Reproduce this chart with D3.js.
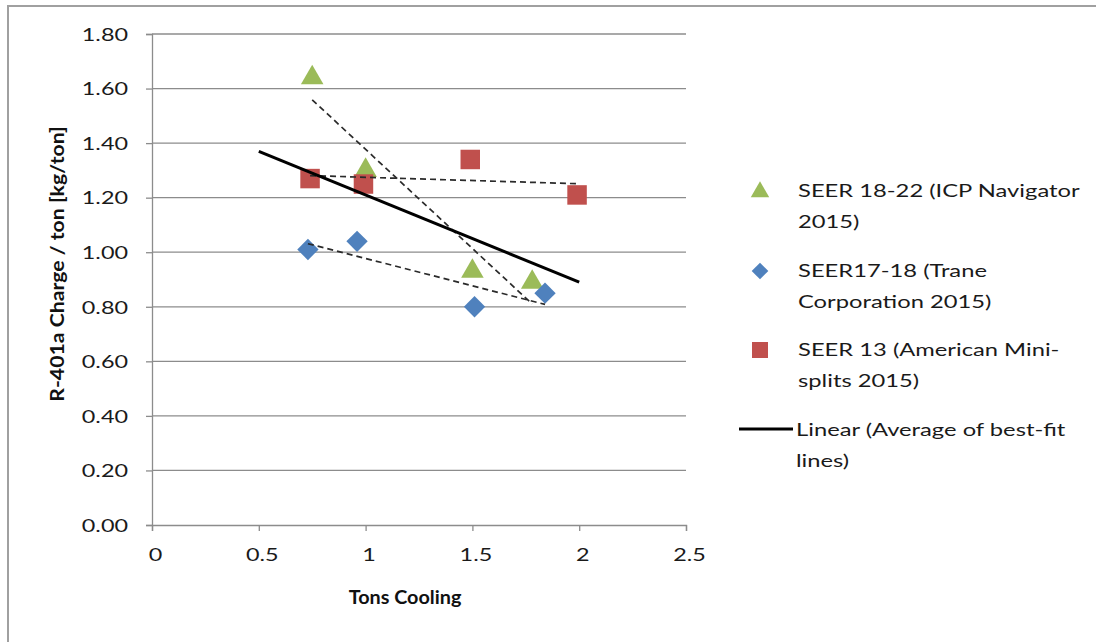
<!DOCTYPE html>
<html><head><meta charset="utf-8">
<script src="https://cdn.jsdelivr.net/npm/d3@7"></script>
<style>body{margin:0;background:#fff}svg{display:block}text{font-family:Lato,"Open Sans",sans-serif}</style>
</head><body><svg id="c" width="1096" height="642"></svg>
<script>
// ---- data ----
const xTicks = [0, 0.5, 1, 1.5, 2, 2.5];
const yTicks = [0, 0.2, 0.4, 0.6, 0.8, 1.0, 1.2, 1.4, 1.6, 1.8];
const greenX = [0.75, 1.00, 1.50, 1.78];
const greenY = [1.64, 1.30, 0.93, 0.89];
const blueX = [0.73, 0.96, 1.51, 1.84];
const blueY = [1.01, 1.04, 0.80, 0.85];
const redX = [0.74, 0.99, 1.49, 1.99];
const redY = [1.27, 1.25, 1.34, 1.21];
const avgX = [0.5, 2.0];
const avgY = [1.37, 0.89];
const legendLabels = [
  ["SEER 18-22 (ICP Navigator", "2015)"],
  ["SEER17-18 (Trane", "Corporation 2015)"],
  ["SEER 13 (American Mini-", "splits 2015)"],
  ["Linear (Average of best-fit", "lines)"]
];
const xTitle = "Tons Cooling";
const yTitle = "R-401a Charge / ton [kg/ton]";

// ---- drawing ----
const svg = d3.select("#c");
const L = 152, R = 686, T = 34, B = 525;
const x = d3.scaleLinear().domain([0, 2.5]).range([L, R]);
const y = d3.scaleLinear().domain([0, 1.8]).range([B, T]);
const gray = "#8c8c8c";
const SX = 1.3; // horizontal text stretch of the original rendering

// chart border
svg.append("path").attr("d", "M8,642V6H1096").attr("fill", "none").attr("stroke", "#a0a0a0").attr("stroke-width", 2);

// gridlines
svg.append("g").selectAll("line").data(yTicks.filter(d => d > 0)).join("line")
  .attr("x1", L).attr("x2", R).attr("y1", d => y(d)).attr("y2", d => y(d))
  .attr("stroke", gray).attr("stroke-width", 1.3);

// axes
const yAxis = d3.axisLeft(y).tickValues(yTicks).tickFormat(d3.format(".2f")).tickSize(6);
const gy = svg.append("g").attr("transform", `translate(${L},0)`).call(yAxis);
const xAxis = d3.axisBottom(x).tickValues(xTicks).tickFormat(d => d3.format("")(d)).tickSize(6);
const gx = svg.append("g").attr("transform", `translate(0,${B})`).call(xAxis);
[gx, gy].forEach(g => {
  g.select(".domain").attr("stroke", gray).attr("stroke-width", 1.3);
  g.selectAll(".tick line").attr("stroke", gray).attr("stroke-width", 1.3);
  g.selectAll(".tick text").attr("font-size", 18).attr("fill", "#1a1a1a").attr("font-family", "Lato, sans-serif");
});
gy.selectAll(".tick text").attr("x", -24 / SX).attr("dy", "0.35em").attr("transform", `scale(${SX},1)`);
gx.selectAll(".tick text").attr("x", 3 / SX).attr("y", 30).attr("dy", "0.35em").attr("transform", `scale(${SX},1)`);

// titles
svg.append("text").attr("transform", `translate(405,598) scale(1.1,1)`).attr("dy", "0.35em").attr("text-anchor", "middle")
  .attr("font-size", 18).attr("font-weight", "bold").attr("fill", "#111").text(xTitle);
svg.append("text").attr("transform", "translate(58,264) rotate(-90) scale(1.18,1)").attr("dy", "0.35em").attr("text-anchor", "middle")
  .attr("font-size", 18).attr("font-weight", "bold").attr("fill", "#111").text(yTitle);

// trendlines (least squares) dashed
function fit(xs, ys) {
  const mx = d3.mean(xs), my = d3.mean(ys);
  let num = 0, den = 0;
  xs.forEach((v, i) => { num += (v - mx) * (ys[i] - my); den += (v - mx) * (v - mx); });
  const m = num / den, b = my - m * mx;
  const x0 = d3.min(xs), x1 = d3.max(xs);
  return [[x0, m * x0 + b], [x1, m * x1 + b]];
}
const line = d3.line().x(d => x(d[0])).y(d => y(d[1]));

// markers
const sym = {
  tri: d3.symbol(d3.symbolTriangle, 220),
  dia: d3.symbol(d3.symbolDiamond2, 290),
  sq: d3.symbol(d3.symbolSquare, 380)
};
const series = [
  { xs: greenX, ys: greenY, color: "#9BBB59", s: sym.tri },
  { xs: blueX, ys: blueY, color: "#4F81BD", s: sym.dia },
  { xs: redX, ys: redY, color: "#C0504D", s: sym.sq }
];
const mk = svg.append("g");
series.forEach(sr => {
  mk.append("g").selectAll("path").data(sr.xs.map((v, i) => [v, sr.ys[i]])).join("path")
    .attr("d", sr.s).attr("fill", sr.color)
    .attr("transform", d => `translate(${x(d[0])},${y(d[1])})`);
});
const tl = svg.append("g");
series.forEach(sr => {
  tl.append("path").attr("d", line(fit(sr.xs, sr.ys))).attr("fill", "none")
    .attr("stroke", "#2a2a2a").attr("stroke-width", 1.7).attr("stroke-dasharray", "6,4");
});
// average line
svg.append("path").attr("d", line(avgX.map((v, i) => [v, avgY[i]]))).attr("fill", "none")
  .attr("stroke", "#000").attr("stroke-width", 3);

// legend
const lg = svg.append("g");
const ly = [191, 271, 350, 430];
series.forEach((sr, i) => {
  lg.append("path").attr("d", sr.s).attr("fill", sr.color)
    .attr("transform", `translate(760,${ly[i] + (i === 0 ? 1 : 0)}) scale(${i === 1 ? 0.78 : 0.82})`);
});
lg.append("line").attr("x1", 739).attr("x2", 793).attr("y1", ly[3] - 1).attr("y2", ly[3] - 1)
  .attr("stroke", "#000").attr("stroke-width", 3);
legendLabels.forEach((lines, i) => {
  lines.forEach((t, j) => {
    lg.append("text").attr("transform", `translate(${i === 3 ? 796 : 798},${ly[i] + j * 31}) scale(1.32,1)`).attr("dy", "0.35em")
      .attr("font-size", 18).attr("fill", "#1a1a1a").text(t);
  });
});
</script></body></html>
